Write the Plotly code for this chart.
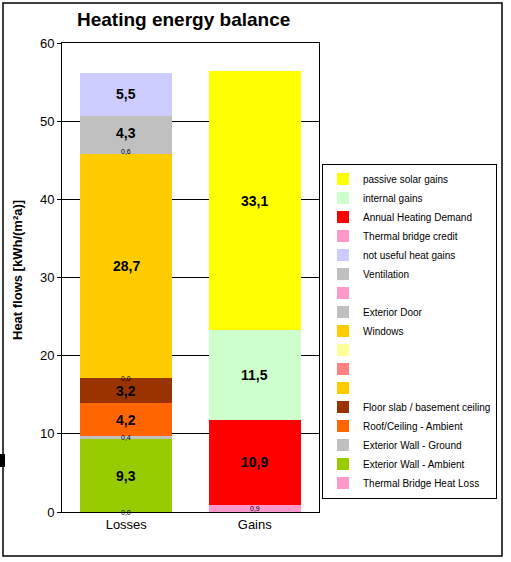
import plotly.graph_objects as go

categories = ["Losses", "Gains"]

# series listed bottom-to-top of the stack
series_names = [
    "Thermal Bridge Heat Loss",
    "Exterior Wall - Ambient",
    "Exterior Wall - Ground",
    "Roof/Ceiling - Ambient",
    "Floor slab / basement ceiling",
    " ",
    "  ",
    "   ",
    "Windows",
    "Exterior Door",
    "    ",
    "Ventilation",
    "not useful heat gains",
    "Thermal bridge credit",
    "Annual Heating Demand",
    "internal gains",
    "passive solar gains",
]
losses_values = [0.0, 9.3, 0.4, 4.2, 3.2, 0.0, None, None, 28.7, 0.6, None, 4.3, 5.5,
                 None, None, None, None]
gains_values = [None, None, None, None, None, None, None, None, None, None, None, None, None,
                0.9, 10.9, 11.5, 33.1]
series_colors = [
    "#FF99CC", "#99CC00", "#C0C0C0", "#FF6600", "#993300", "#FFCC00", "#FF8080",
    "#FFFF99", "#FFCC00", "#C0C0C0", "#FF99CC", "#C0C0C0", "#CCCCFF",
    "#FF99CC", "#FF0000", "#CCFFCC", "#FFFF00",
]

W, H = 511, 562
PL, PR, PT, PB = 62, 319, 43, 512  # plot area in px


def px_x(px):
    return (px - PL) / (PR - PL)


def px_y(py):
    return (PB - py) / (PB - PT)


FONT = "Liberation Sans, Arial, sans-serif"

fig = go.Figure()
for name, lv, gv, col in zip(series_names, losses_values, gains_values, series_colors):
    fig.add_trace(go.Bar(
        x=categories, y=[lv, gv], name=name,
        marker=dict(color=col, line=dict(width=0)),
        hoverinfo="skip",
    ))

# value labels
annotations = []
for ci, cat in enumerate(categories):
    vals = losses_values if ci == 0 else gains_values
    base = 0.0
    for v in vals:
        if v is None:
            continue
        mid = base + v / 2
        txt = f"{v:.1f}".replace(".", ",")
        if v >= 1:
            annotations.append(dict(x=cat, y=mid, xref="x", yref="y", text=f"<b>{txt}</b>",
                                    showarrow=False, xanchor="center", yanchor="middle",
                                    font=dict(size=14, color="black", family=FONT)))
        else:
            annotations.append(dict(x=cat, y=mid, xref="x", yref="y", text=txt,
                                    showarrow=False, xanchor="center", yanchor="middle",
                                    font=dict(size=7, color="black", family=FONT)))
        base += v

annotations.append(dict(
    x=px_x(17), y=px_y(270), xref="paper", yref="paper", xanchor="center", yanchor="middle",
    text="<b>Heat flows [kWh/(m²a)]</b>", textangle=-90, showarrow=False,
    font=dict(size=13, color="black", family=FONT)))
annotations.append(dict(
    x=px_x(183), y=px_y(20), xref="paper", yref="paper", xanchor="center", yanchor="middle",
    text="<b>Heating energy balance</b>", showarrow=False,
    font=dict(size=19, color="black", family=FONT)))

shapes = [
    dict(type="rect", xref="paper", yref="paper",
         x0=px_x(3), x1=px_x(502), y0=px_y(556), y1=px_y(3),
         line=dict(color="black", width=1.5), fillcolor="rgba(0,0,0,0)", layer="below"),
    dict(type="rect", xref="paper", yref="paper",
         x0=px_x(0), x1=px_x(5), y0=px_y(467), y1=px_y(454),
         line=dict(width=0), fillcolor="black"),
]

fig.update_layout(
    width=W, height=H,
    margin=dict(l=PL, r=W - PR, t=PT, b=H - PB, pad=0),
    barmode="stack", bargap=0.284,
    paper_bgcolor="white", plot_bgcolor="white",
    font=dict(family=FONT, color="black", size=13),
    showlegend=True,
    legend=dict(
        x=px_x(322), y=px_y(331), xanchor="left", yanchor="middle",
        traceorder="reversed", bordercolor="black", borderwidth=1,
        bgcolor="white", font=dict(size=10, family=FONT, color="black"),
        itemclick=False,
    ),
    xaxis=dict(showline=True, linecolor="black", linewidth=1, mirror=True,
               ticks="", tickfont=dict(size=13), showgrid=False),
    yaxis=dict(range=[0, 60], dtick=10, showline=True, linecolor="black", linewidth=1,
               mirror=True, ticks="outside", ticklen=4, tickcolor="black",
               showgrid=True, gridcolor="black", gridwidth=1,
               tickfont=dict(size=13), zeroline=False),
    annotations=annotations,
    shapes=shapes,
)

fig.write_html("out.html", config={"displayModeBar": False},
               post_script="document.body.style.margin='0';document.body.style.overflow='hidden';")
